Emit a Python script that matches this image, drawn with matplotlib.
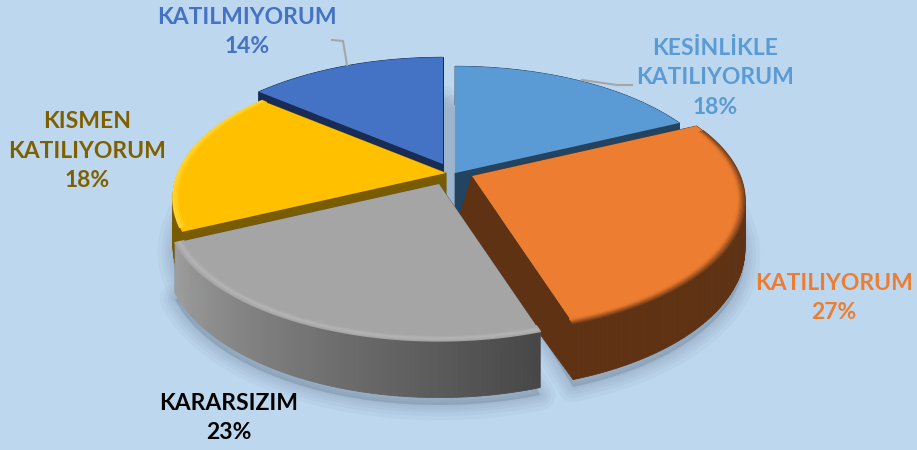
import numpy as np
import matplotlib
matplotlib.use("Agg")
import matplotlib.pyplot as plt
from matplotlib.colors import to_rgb

# data
labels = ["KESİNLİKLE\nKATILIYORUM", "KATILIYORUM", "KARARSIZIM", "KISMEN\nKATILIYORUM", "KATILMIYORUM"]
values = [18, 27, 23, 18, 14]

# colours
top_colors = ["#5B9BD5", "#ED7D31", "#A5A5A5", "#FFC000", "#4472C4"]
side_left = ["#234461", "#5F3213", "#A0A0A0", "#7A5C00", "#182C55"]
side_right = ["#234461", "#5F3213", "#474747", "#7A5C00", "#182C55"]
text_colors = ["#5B9BD5", "#ED7D31", "#000000", "#7F6000", "#4472C4"]
bg_color = "#BDD7EE"

# pie geometry (pixels)
R = 268
B = 127
P = 0.19
DEPTH = 46
tips = [(455, 173), (472, 176), (439, 184), (446, 173), (443, 164)]
tip_shift = [0, -14, 0, 0, 0]  # bottom corner of the cut face, perspective
draw_order = [0, 4, 1, 3, 2]
label_pos = [(715, 78), (834, 298), (229, 418), (87, 151), (247, 32)]


def project(tip, x, y, z=0.0):
    w = 1 - P * y
    return tip[0] + R * x / w, tip[1] + (B * y + z) / w


def arc(tip, a0, a1, r=1.0, z=0.0, n=120):
    t = np.radians(np.linspace(a0, a1, n))
    return project(tip, r * np.sin(t), -r * np.cos(t), z)


def mix(c1, c2, f):
    return tuple((1 - f) * a + f * b for a, b in zip(to_rgb(c1), to_rgb(c2)))


fig = plt.figure(figsize=(9.17, 4.5), dpi=100, facecolor=bg_color)
ax = fig.add_axes([0, 0, 1, 1])
ax.set_xlim(0, 917)
ax.set_ylim(450, 0)
ax.axis("off")

edges = np.cumsum([0] + values) * 3.6

# soft shadow under the slices
for i in draw_order:
    tip = tips[i]
    xa, ya = arc(tip, edges[i], edges[i + 1], z=DEPTH + 6)
    xs = np.r_[tip[0], xa]
    ys = np.r_[tip[1] + DEPTH, ya]
    for lw in [22, 16, 11, 7, 3]:
        ax.fill(xs, ys, color="#44546A", alpha=0.045, lw=lw, joinstyle="round", zorder=1)

z = 2
for i in draw_order:
    tip = tips[i]
    a0, a1 = edges[i], edges[i + 1]

    # cut faces
    for a in (a0, a1):
        xe, ye = arc(tip, a, a, n=2)
        ax.fill([tip[0], xe[0], xe[0], tip[0] + tip_shift[i]],
                [tip[1], ye[0], project(tip, np.sin(np.radians(a)), -np.cos(np.radians(a)), DEPTH)[1], tip[1] + DEPTH],
                color=side_right[i] if i != 2 else "#555555", lw=0.5, zorder=z)

    # outer side, split in strips for the gradient
    n = 100
    ang = np.linspace(a0, a1, n + 1)
    for k in range(n):
        xt, yt = arc(tip, ang[k], ang[k + 1], n=4)
        xb, yb = arc(tip, ang[k], ang[k + 1], z=DEPTH, n=4)
        # left part of the side is the light end
        f = k / n
        c = mix(side_right[i], side_left[i], f)
        ax.fill(np.r_[xt, xb[::-1]], np.r_[yt, yb[::-1]], color=c, lw=0.6, zorder=z)

    # top face
    xa, ya = arc(tip, a0, a1)
    ax.fill(np.r_[tip[0], xa], np.r_[tip[1], ya], color=top_colors[i], lw=0, zorder=z + 0.1)

    # bevel along the rim
    if i == 1:
        for r, f in zip(np.linspace(1.0, 0.975, 7), np.linspace(0.85, 0.05, 7)):
            xr, yr = arc(tip, a0 + 3, a1, r=r)
            ax.plot(xr, yr, color=mix(top_colors[i], side_left[i], f), lw=1.2, zorder=z + 0.2)
    elif i == 2:
        for r, f in zip(np.linspace(1.0, 0.97, 7), [0.0, 0.12, 0.25, 0.35, 0.25, 0.12, 0.03]):
            xr, yr = arc(tip, a0, a1, r=r)
            ax.plot(xr, yr, color=mix(top_colors[i], "#D0D0D0", f), lw=1.2, zorder=z + 0.2)
    elif i == 3:
        for r, f in zip(np.linspace(1.0, 0.975, 5), [0.9, 0.7, 0.5, 0.25, 0.05]):
            xr, yr = arc(tip, a0 + 2, a1, r=r)
            ax.plot(xr, yr, color=mix(top_colors[i], "#FFDB3D", f), lw=1.2, zorder=z + 0.2)
    z += 1

# leader lines
ax.plot([582, 617, 632], [80, 85, 85], color="#A6A6A6", lw=1.5, zorder=z)
ax.plot([332, 343, 347], [40, 41, 65], color="#A6A6A6", lw=1.5, zorder=z)

# labels
for i, (x, y) in enumerate(label_pos):
    ax.text(x, y, f"{labels[i]}\n{values[i]}%", color=text_colors[i], ha="center", va="center",
            family="Lato", fontweight="bold", fontsize=16.5, linespacing=1.5, zorder=z + 1)

fig.savefig("out.png", dpi=100, facecolor=bg_color)
